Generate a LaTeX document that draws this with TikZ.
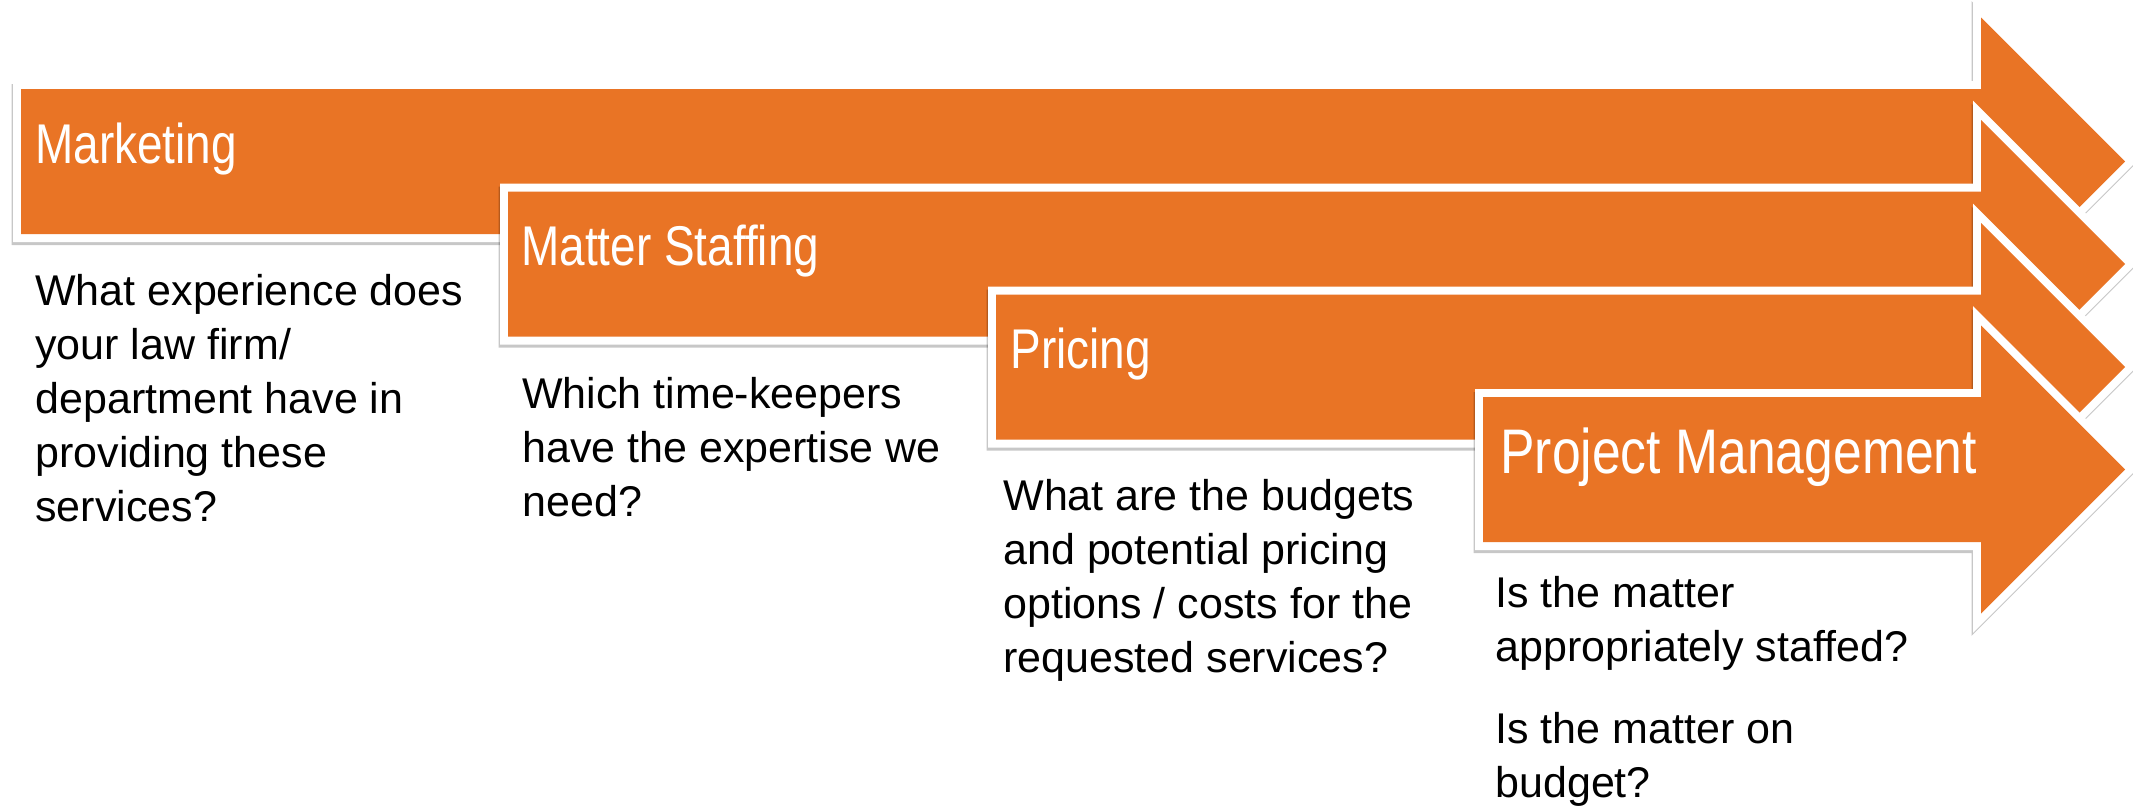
\documentclass[tikz,border=0pt]{standalone}
\usepackage{fontspec}
\setmainfont{Liberation Sans}
\newfontfamily\narrowfont[FakeStretch = 0.82]{Liberation Sans}
\definecolor{stageorange}{RGB}{233,116,37}

\tikzset{
  stage/.style = {fill = stageorange,
    preaction = {draw = black, fill = black, opacity = 0.22, line width = 8pt,
      transform canvas = {shift = {(-0.75pt, -1.5pt)}}},
    preaction = {draw = white, line width = 8pt}},
  stagelabel/.style = {anchor = base west, inner sep = 0pt, text = white,
    font = \narrowfont\fontsize{28}{34}\selectfont},
  question/.style = {anchor = north west, inner sep = 0pt, align = left,
    font = \fontsize{21.5}{27}\selectfont}
}

\begin{document}
\begin{tikzpicture}[x = 0.5pt, y = -0.5pt]

\useasboundingbox (0, 0) rectangle (2133, 811);

\path[stage] (21, 89) -- (1981, 89) -- (1981, 17.5) -- (2125, 161.5)
  -- (1981, 305.5) -- (1981, 234) -- (21, 234) -- cycle;
\path[stage] (508, 191.5) -- (1981, 191.5) -- (1981, 120) -- (2125, 264)
  -- (1981, 408) -- (1981, 336.5) -- (508, 336.5) -- cycle;
\path[stage] (996, 294.5) -- (1981, 294.5) -- (1981, 223) -- (2125, 367)
  -- (1981, 511) -- (1981, 439.5) -- (996, 439.5) -- cycle;
\path[stage] (1483, 397) -- (1981, 397) -- (1981, 325.5) -- (2125, 469.5)
  -- (1981, 613.5) -- (1981, 542) -- (1483, 542) -- cycle;

\node[stagelabel] (marketing) at (35, 163) {Marketing};
\node[stagelabel] (staffing) at (521, 265) {Matter Staffing};
\node[stagelabel] (pricing) at (1010, 368) {Pricing};
\node[stagelabel, font = \narrowfont\fontsize{31.5}{38}\selectfont]
  (project) at (1500, 473) {Project Management};

\node[question] (q marketing) at (35, 274)
  {What experience does\\your law firm/\\department have in\\providing these\\services?};
\node[question] (q staffing) at (522, 377)
  {Which time-keepers\\have the expertise we\\need?};
\node[question] (q pricing) at (1003, 479)
  {What are the budgets\\and potential pricing\\options / costs for the\\requested services?};
\node[question] (q project) at (1495, 576)
  {Is the matter\\appropriately staffed?\\[14pt]Is the matter on\\budget?};

\end{tikzpicture}
\end{document}
